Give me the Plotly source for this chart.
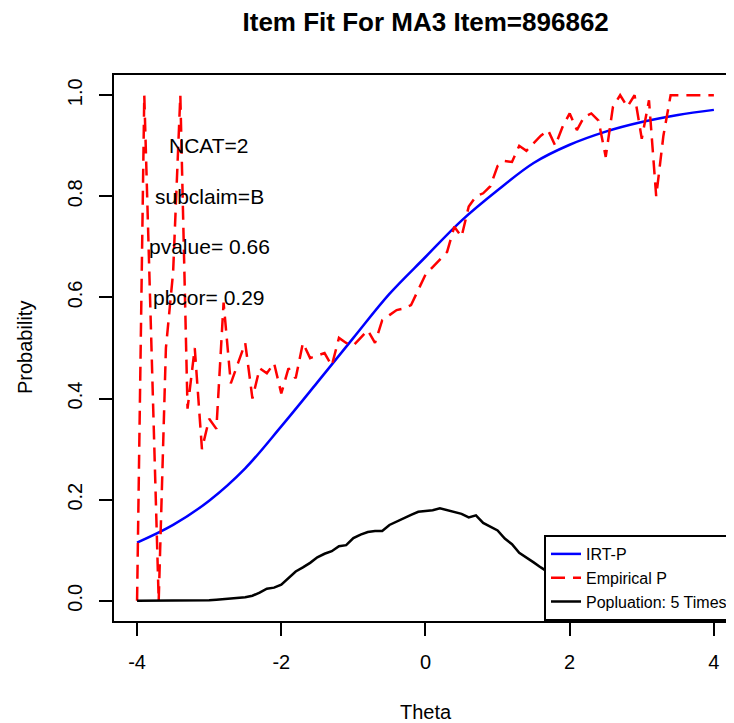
import plotly.graph_objects as go

# theta grid used for empirical P and population curve
theta = [
    -4.0, -3.9, -3.8, -3.7, -3.6, -3.5, -3.4, -3.3, -3.2, -3.1,
    -3.0, -2.9, -2.8, -2.7, -2.6, -2.5, -2.4, -2.3, -2.2, -2.1,
    -2.0, -1.9, -1.8, -1.7, -1.6, -1.5, -1.4, -1.3, -1.2, -1.1,
    -1.0, -0.9, -0.8, -0.7, -0.6, -0.5, -0.4, -0.3, -0.2, -0.1,
    0.0, 0.1, 0.2, 0.3, 0.4, 0.5, 0.6, 0.7, 0.8, 0.9,
    1.0, 1.1, 1.2, 1.3, 1.4, 1.5, 1.6, 1.7, 1.8, 1.9,
    2.0, 2.1, 2.2, 2.3, 2.4, 2.5, 2.6, 2.7, 2.8, 2.9,
    3.0, 3.1, 3.2, 3.3, 3.4, 3.5, 3.6, 3.7, 3.8, 3.9,
    4.0,
]

empirical_p = [
    0.0, 1.0, 0.5, 0.0, 0.5, 0.65, 1.0, 0.38,
    0.50, 0.30, 0.36, 0.34, 0.59, 0.43, 0.47, 0.51, 0.40, 0.46,
    0.45, 0.47, 0.41, 0.46, 0.44, 0.51, 0.48, 0.485, 0.49, 0.465,
    0.52, 0.51, 0.505, 0.52, 0.535, 0.51, 0.555, 0.565, 0.575, 0.578,
    0.585, 0.615, 0.645, 0.66, 0.675, 0.69, 0.74, 0.72, 0.78, 0.80,
    0.806, 0.82, 0.86, 0.87, 0.868, 0.90, 0.89, 0.905, 0.92, 0.931,
    0.90, 0.937, 0.964, 0.931, 0.957, 0.964, 0.95, 0.878, 0.977, 1.0,
    0.977, 1.0, 0.914, 0.99, 0.80, 0.92, 1.0, 1.0, 1.0, 1.0,
    1.0, 1.0, 1.0,
]

population = [
    0.0, 0.0, 0.0, 0.0, 0.0, 0.0, 0.0, 0.0,
    0.0005, 0.001, 0.001, 0.002, 0.003, 0.004, 0.005, 0.007, 0.010, 0.016,
    0.024, 0.026, 0.032, 0.046, 0.058, 0.066, 0.075, 0.086, 0.093, 0.098,
    0.108, 0.110, 0.124, 0.131, 0.136, 0.138, 0.138, 0.150, 0.157, 0.163,
    0.170, 0.176, 0.178, 0.179, 0.183, 0.179, 0.176, 0.172, 0.165, 0.169,
    0.154, 0.147, 0.139, 0.123, 0.112, 0.095, 0.086, 0.076, 0.066, 0.056,
    0.047, 0.040, 0.033, 0.027, 0.022, 0.018, 0.014, 0.011, 0.008, 0.006,
    0.005, 0.004, 0.003, 0.002, 0.002, 0.001, 0.001, 0.0, 0.0, 0.0,
    0.0, 0.0, 0.0,
]

# model curve, read at half-unit steps
irt_theta = [-4.0, -3.5, -3.0, -2.5, -2.0, -1.5, -1.0, -0.5, 0.0,
             0.5, 1.0, 1.5, 2.0, 2.5, 3.0, 3.5, 4.0]
irt_p = [0.115, 0.150, 0.198, 0.262, 0.345, 0.432, 0.52, 0.607, 0.68,
         0.752, 0.812, 0.866, 0.902, 0.928, 0.947, 0.961, 0.971]

info_lines = [
    ('NCAT=2', 0.9),
    ('subclaim=B', 0.8),
    ('pvalue= 0.66', 0.7),
    ('pbcor= 0.29', 0.6),
]

FONT = 'Liberation Sans, Arial, sans-serif'

fig = go.Figure()

fig.add_trace(
    go.Scatter(
        x=irt_theta,
        y=irt_p,
        mode='lines',
        name='IRT-P',
        line=dict(color='#0000FF', width=2.5, shape='spline')
    )
)

fig.add_trace(
    go.Scatter(
        x=theta,
        y=empirical_p,
        mode='lines',
        name='Empirical P',
        line=dict(color='#FF0000', width=2.5, dash='14px,8px')
    )
)

fig.add_trace(
    go.Scatter(
        x=theta,
        y=population,
        mode='lines',
        name='Popluation: 5 Times',
        line=dict(color='#000000', width=2.5)
    )
)

for label, yval in info_lines:
    fig.add_annotation(
        x=-3, y=yval, text=label, showarrow=False,
        xanchor='center', yanchor='middle',
        font=dict(family=FONT, size=21, color='#000000')
    )

fig.add_annotation(
    xref='paper', yref='paper', x=0.5027, y=0, yshift=-91,
    text='Theta', showarrow=False, xanchor='center', yanchor='middle',
    font=dict(family=FONT, size=20, color='#000000')
)
fig.add_annotation(
    xref='paper', yref='paper', x=0, xshift=-89, y=0.5,
    text='Probability', showarrow=False, textangle=-90,
    xanchor='center', yanchor='middle',
    font=dict(family=FONT, size=20, color='#000000')
)

# page body adds an 8px offset, so the figure is 8px smaller than the window
fig.update_layout(
    width=726,
    height=715,
    margin=dict(l=106, r=0, t=67, b=102),
    plot_bgcolor='white',
    paper_bgcolor='white',
    font=dict(family=FONT, size=20, color='#000000'),
    title=dict(
        text='Item Fit For MA3 Item=896862',
        x=0.5027, xref='paper', xanchor='center',
        y=1 - 14 / 715, yref='container', yanchor='middle',
        font=dict(family=FONT, size=26, color='#000000', weight='bold')
    ),
    legend=dict(
        x=1, y=0, xanchor='right', yanchor='bottom',
        bgcolor='white', bordercolor='black', borderwidth=2,
        font=dict(family=FONT, size=16, color='#000000')
    ),
    showlegend=True
)

fig.update_xaxes(
    range=[-4.32, 4.279],
    tickvals=[-4, -2, 0, 2, 4],
    ticktext=['-4', '-2', '0', '2', '4'],
    ticks='outside', ticklen=13, tickwidth=2, tickcolor='black',
    ticklabelstandoff=9,
    showline=True, linecolor='black', linewidth=2, mirror=True,
    showgrid=False, zeroline=False
)

fig.update_yaxes(
    range=[-0.04, 1.04],
    tickvals=[0, 0.2, 0.4, 0.6, 0.8, 1.0],
    ticktext=['0.0', '0.2', '0.4', '0.6', '0.8', '1.0'],
    tickangle=-90,
    ticks='outside', ticklen=13, tickwidth=2, tickcolor='black',
    ticklabelstandoff=9,
    showline=True, linecolor='black', linewidth=2,
    showgrid=False, zeroline=False
)

fig.write_html('out.html')
